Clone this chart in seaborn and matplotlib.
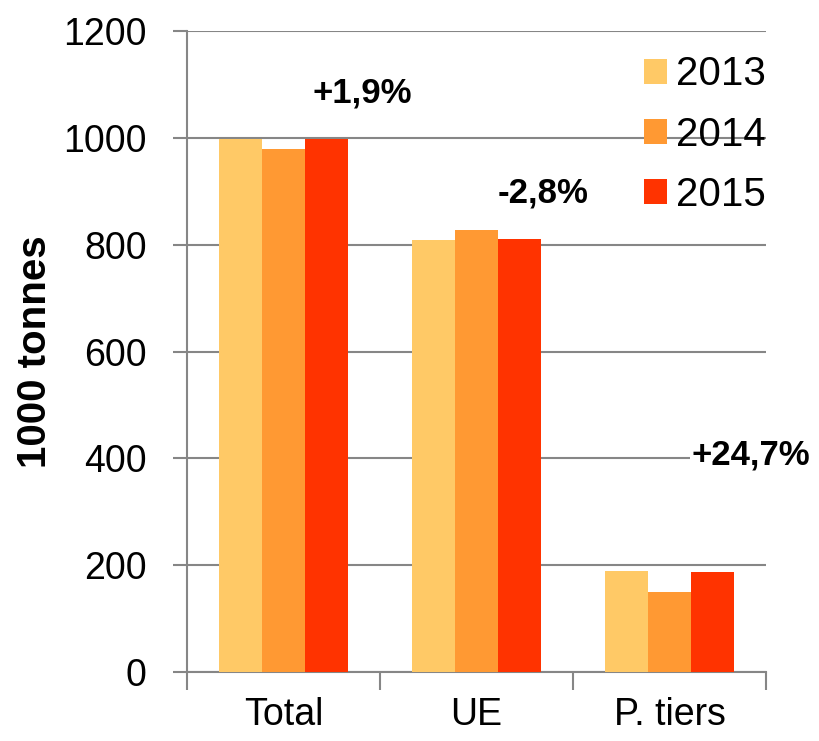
import matplotlib
matplotlib.use("Agg")
import matplotlib.pyplot as plt
import seaborn as sns
import pandas as pd

categories = ["Total", "UE", "P. tiers"]
years = ["2013", "2014", "2015"]
values_2013 = [998, 809, 189]
values_2014 = [979, 828, 150]
values_2015 = [998, 811, 188]
changes = ["+1,9%", "-2,8%", "+24,7%"]
change_pos_x = [0.41, 1.345, 2.42]
change_pos_y = [1084, 897, 406]
colors = ["#FFC966", "#FF9933", "#FF3300"]
y_ticks = [0, 200, 400, 600, 800, 1000, 1200]

sns.set_theme(style="white")
plt.rcParams["font.family"] = ["Liberation Sans", "DejaVu Sans"]
plt.rcParams["text.color"] = "black"
plt.rcParams["xtick.labelcolor"] = "black"
plt.rcParams["ytick.labelcolor"] = "black"
plt.rcParams["axes.labelcolor"] = "black"

rows = []
for yr, vals in zip(years, [values_2013, values_2014, values_2015]):
    for c, v in zip(categories, vals):
        rows.append({"cat": c, "year": yr, "val": v})
df = pd.DataFrame(rows)

fig = plt.figure(figsize=(8.2, 7.41), dpi=100)
ax = fig.add_axes([187/820, 1-672/741, (766-187)/820, (672-31)/741])

sns.barplot(data=df, x="cat", y="val", hue="year", order=categories,
            hue_order=years, palette=colors, width=0.67, saturation=1,
            linewidth=0, edgecolor="none", ax=ax, zorder=3)

gray = "#868686"
ax.set_ylim(0, 1200)
ax.set_xlim(-0.5, 2.5)
ax.set_yticks(y_ticks)
ax.set_yticklabels([str(t) for t in y_ticks], fontsize=27, color="black")
ax.yaxis.grid(True, color=gray, linewidth=1.5, zorder=0)
ax.set_axisbelow(True)
for s in ["top", "right"]:
    ax.spines[s].set_visible(False)
for s in ["left", "bottom"]:
    ax.spines[s].set_color(gray)
    ax.spines[s].set_linewidth(1.5)
ax.tick_params(axis="y", which="major", left=True, length=10, width=1.5,
               color=gray, pad=19, labelcolor="black")
ax.tick_params(axis="x", which="major", length=0, pad=18, labelsize=27,
               labelcolor="black")
ax.set_xticks([-0.5, 0.5, 1.5, 2.5], minor=True)
ax.tick_params(axis="x", which="minor", bottom=True, length=13, width=1.5,
               color=gray)
ax.set_xlabel("")
ax.set_ylabel("1000 tonnes", fontsize=29, fontweight="bold", color="black")
ax.yaxis.set_label_coords(-0.23, 0.5)

for t, x, y in zip(changes, change_pos_x, change_pos_y):
    ax.text(x, y, t, ha="center", va="center", fontsize=25,
            fontweight="bold", color="black", clip_on=False, zorder=5,
            bbox=dict(facecolor="white", edgecolor="none", pad=1))

handles, labels = ax.get_legend_handles_labels()
leg = ax.legend(handles, labels, loc="upper right", bbox_to_anchor=(1.0, 0.962),
                frameon=False, fontsize=29, handlelength=0.58, handleheight=0.58,
                handletextpad=0.22, labelspacing=0.55, borderaxespad=0,
                borderpad=0)
for txt in leg.get_texts():
    txt.set_color("black")

fig.savefig("out.png", dpi=100)
